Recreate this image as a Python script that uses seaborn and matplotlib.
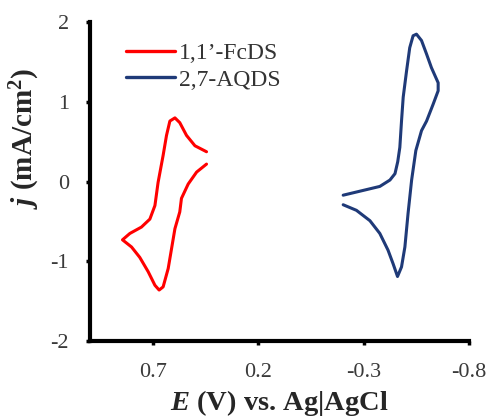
import numpy as np
import pandas as pd
import matplotlib
matplotlib.use("Agg")
import matplotlib.pyplot as plt
import seaborn as sns

# ---- data ----
fcds_E = [0.446, 0.493, 0.533, 0.565, 0.573, 0.596, 0.612, 0.628, 0.652, 0.671,
          0.691, 0.723, 0.763, 0.802, 0.845, 0.810, 0.755, 0.715, 0.691, 0.676,
          0.652, 0.636, 0.620, 0.596, 0.573, 0.541, 0.501, 0.446]
fcds_j = [0.22, 0.12, -0.03, -0.21, -0.38, -0.59, -0.84, -1.09, -1.32, -1.36,
          -1.30, -1.13, -0.95, -0.82, -0.73, -0.65, -0.57, -0.47, -0.30, -0.01,
          0.33, 0.58, 0.76, 0.80, 0.74, 0.58, 0.45, 0.375]

aqds_E = [-0.203, -0.298, -0.377, -0.425, -0.449, -0.462, -0.472, -0.480, -0.488, -0.504,
          -0.519, -0.535, -0.551, -0.575, -0.599, -0.622, -0.654, -0.654, -0.630, -0.599,
          -0.575, -0.548, -0.528, -0.511, -0.496, -0.480, -0.461, -0.440, -0.416, -0.377,
          -0.330, -0.266, -0.203]
aqds_j = [-0.17, -0.11, -0.06, 0.02, 0.10, 0.25, 0.43, 0.76, 1.06, 1.39,
          1.68, 1.83, 1.85, 1.77, 1.60, 1.43, 1.24, 1.14, 0.97, 0.76,
          0.64, 0.39, 0.02, -0.40, -0.82, -1.07, -1.19, -1.03, -0.86, -0.65,
          -0.49, -0.36, -0.29]

series_names = ["1,1\u2019-FcDS", "2,7-AQDS"]
series_colors = ["#ff0000", "#1f3a78"]
x_ticks = [0.7, 0.2, -0.3, -0.8]
x_ticklabels = ["0.7", "0.2", "-0.3", "-0.8"]
y_ticks = [-2, -1, 0, 1, 2]
y_ticklabels = ["-2", "-1", "0", "1", "2"]

df = pd.concat([
    pd.DataFrame({"E": fcds_E, "j": fcds_j, "series": series_names[0]}),
    pd.DataFrame({"E": aqds_E, "j": aqds_j, "series": series_names[1]}),
], ignore_index=True)

sns.set_style("ticks")
plt.rcParams["font.family"] = ["Liberation Serif", "DejaVu Serif"]
plt.rcParams["mathtext.fontset"] = "custom"
plt.rcParams["mathtext.rm"] = "Liberation Serif:bold"
plt.rcParams["mathtext.bf"] = "Liberation Serif:bold"
plt.rcParams["mathtext.it"] = "Liberation Serif:bold:italic"

fig = plt.figure(figsize=(4.91, 4.19), dpi=100)
ax = fig.add_axes([0.183, 0.186, 0.772, 0.761])

sns.lineplot(data=df, x="E", y="j", hue="series", palette=series_colors,
             sort=False, estimator=None, units="series", linewidth=2.2, ax=ax)

ax.set_xlim(1.0, -0.8)
ax.set_ylim(-2, 2)
ax.set_xticks(x_ticks)
ax.set_xticklabels(x_ticklabels)
ax.set_yticks(y_ticks)
ax.set_yticklabels(y_ticklabels)

for s in ["top", "right"]:
    ax.spines[s].set_visible(False)
for s in ["left", "bottom"]:
    ax.spines[s].set_linewidth(3.0)
    ax.spines[s].set_color("black")
    ax.spines[s].set_capstyle("projecting")
ax.tick_params(axis="both", direction="out", length=3, width=2.5,
               labelsize=16, colors="black", labelcolor="#3a3a3a")
ax.tick_params(axis="x", pad=13)
ax.tick_params(axis="y", pad=12)

ax.set_xlabel(r"$E$ (V) vs. Ag|AgCl", fontsize=20.5, fontweight="bold")
ax.set_ylabel(r"$j$ (mA/cm$^2$)", fontsize=21, fontweight="bold")
ax.xaxis.set_label_coords(0.5, -0.148)
ax.yaxis.set_label_coords(-0.125, 0.636)

leg = ax.legend(loc="upper left", bbox_to_anchor=(0.095, 0.935), frameon=False,
                fontsize=17, handlelength=2.1, handletextpad=0.15, labelspacing=0.2,
                borderaxespad=0, borderpad=0)
for line in leg.get_lines():
    line.set_linewidth(2.4)
for t in leg.get_texts():
    t.set_color("#333333")

fig.savefig("out.png", dpi=100)
